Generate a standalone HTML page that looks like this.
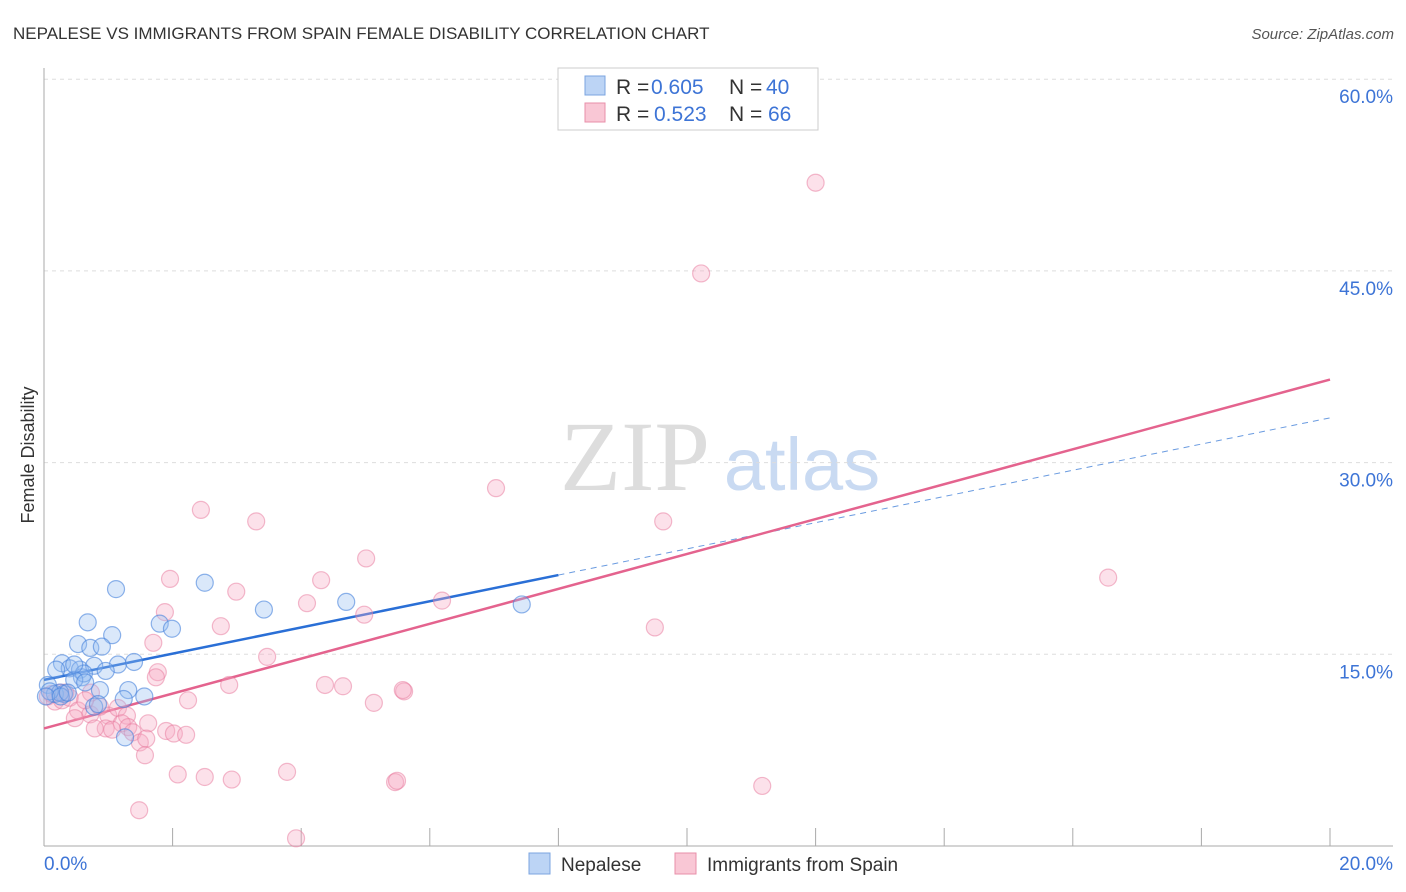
<!DOCTYPE html>
<html><head><meta charset="utf-8">
<style>
body{margin:0;background:#fff;font-family:"Liberation Sans",sans-serif;}
#wrap{position:relative;width:1406px;height:892px;overflow:hidden;}
</style></head><body>
<div id="wrap">
<svg id="chart" width="1406" height="892" style="position:absolute;left:0;top:0">
<text x="13" y="39" font-size="17" fill="#333">NEPALESE VS IMMIGRANTS FROM SPAIN FEMALE DISABILITY CORRELATION CHART</text>
<text x="1394" y="39" font-size="15" fill="#555" text-anchor="end" font-style="italic">Source: ZipAtlas.com</text>
<text x="34" y="455" font-size="18" fill="#333" text-anchor="middle" transform="rotate(-90 34 455)">Female Disability</text>
<g>
<text x="635" y="490" font-size="100" fill="#ddd" text-anchor="middle" font-family="Liberation Serif,serif">ZIP</text>
<text x="802" y="490" font-size="74" fill="#c9daf2" text-anchor="middle">atlas</text>
</g>
<g id="grid"></g><g id="axes"></g><g id="lines"></g><g id="pts"></g>
<g>
<rect x="558" y="68" width="260" height="62" fill="#fff" stroke="#ccc"/>
<rect x="585" y="76" width="20" height="19" fill="#bcd4f5" stroke="#7ba4e0"/>
<rect x="585" y="103" width="20" height="19" fill="#f9c7d5" stroke="#e88fa9"/>
<g font-size="21" fill="#333">
<text x="616" y="94">R =</text><text x="651" y="94" fill="#3d74d6">0.605</text>
<text x="729" y="94">N =</text><text x="766" y="94" fill="#3d74d6">40</text>
<text x="616" y="121">R =</text><text x="654" y="121" fill="#3d74d6">0.523</text>
<text x="729" y="121">N =</text><text x="768" y="121" fill="#3d74d6">66</text>
</g>
</g>
<g>
<rect x="529" y="853" width="21" height="21" fill="#bcd4f5" stroke="#7ba4e0"/>
<text x="561" y="871" font-size="19" fill="#333">Nepalese</text>
<rect x="675" y="853" width="21" height="21" fill="#f9c7d5" stroke="#e88fa9"/>
<text x="707" y="871" font-size="19" fill="#333">Immigrants from Spain</text>
</g>
</svg>
</div>
<script>
const xTicks=[0,20];
const yTicks=[15,30,45,60];
const blueX=[1.12,2.50,3.42,4.70,7.43,0.68,1.80,1.99,1.06,0.53,0.72,0.90,0.28,0.40,0.56,0.78,1.15,1.40,0.59,0.19,0.06,0.31,0.87,1.31,1.56,1.24,0.17,0.25,0.78,1.26,0.09,0.03,0.62,0.47,0.84,0.26,0.37,0.96,0.47,0.64];
const blueY=[20.1,20.6,18.5,19.1,18.9,17.5,17.4,17.0,16.5,15.8,15.5,15.6,14.3,13.9,13.8,14.1,14.2,14.4,13.2,13.8,12.6,11.9,12.2,12.2,11.7,11.5,11.9,12.0,10.9,8.5,12.1,11.7,13.5,13.0,11.1,11.7,12.0,13.7,14.2,12.8];
const pinkX=[12.0,10.22,7.03,2.44,3.30,9.63,5.01,1.96,4.31,2.99,4.09,1.88,4.98,6.19,1.70,2.75,9.50,16.55,3.47,1.77,1.74,2.88,4.37,4.65,5.60,5.58,5.13,2.24,0.73,0.06,0.17,0.28,0.40,0.53,0.72,1.00,1.15,0.87,1.29,0.48,1.21,1.62,1.31,0.96,1.06,1.38,1.90,2.02,2.21,1.49,1.59,1.57,2.08,2.50,2.92,3.78,5.46,5.49,11.17,1.48,3.92,0.33,0.79,0.25,0.64,0.12];
const pinkY=[51.9,44.8,28.0,26.3,25.4,25.4,22.5,20.9,20.8,19.9,19.0,18.3,18.1,19.2,15.9,17.2,17.1,21.0,14.8,13.6,13.2,12.6,12.6,12.5,12.1,12.2,11.2,11.4,12.0,11.7,11.3,11.4,11.6,10.6,10.3,10.2,10.8,10.9,10.2,10.0,9.6,9.6,9.3,9.2,9.1,8.9,9.0,8.8,8.7,8.1,8.4,7.1,5.6,5.4,5.2,5.8,5.0,5.1,4.7,2.8,0.6,12.0,9.2,12.0,11.4,11.9];
const blueLine=[[0,13.0],[8.0,21.2]];
const blueDash=[[8.0,21.2],[20,33.5]];
const pinkLine=[[0,9.2],[20,36.5]];
const X=v=>44+v/20*1286, Y=v=>846-v*12.78;
const NS="http://www.w3.org/2000/svg";
function mk(p,t,a){const e=document.createElementNS(NS,t);for(const k in a)e.setAttribute(k,a[k]);p.appendChild(e);return e;}
const grid=document.getElementById('grid'),axes=document.getElementById('axes'),lines=document.getElementById('lines'),pts=document.getElementById('pts');
yTicks.forEach(v=>{
 const l=mk(grid,'line',{x1:44,x2:1393,y1:Y(v),y2:Y(v),stroke:'#ddd','stroke-dasharray':'4,4'});
 
 
 const t=mk(axes,'text',{x:1393,y:Y(v)+24,'font-size':19,fill:'#3d74d6','text-anchor':'end'});t.textContent=v.toFixed(1)+'%';
 
 
});
mk(axes,'line',{x1:44,x2:44,y1:68,y2:846,stroke:'#aaa'});
mk(axes,'line',{x1:44,x2:1393,y1:846,y2:846,stroke:'#aaa'});
for(let i=1;i<=10;i++){mk(axes,'line',{x1:X(i*2),x2:X(i*2),y1:828,y2:846,stroke:'#aaa'});}
xTicks.forEach((v,i)=>{const t=mk(axes,'text',{x:i?1393:44,y:870,'font-size':19,fill:'#3d74d6','text-anchor':i?'end':'start'});t.textContent=v.toFixed(1)+'%';
 
 });
function pt(x,y,fill,stroke){const c=mk(pts,'circle',{cx:X(x),cy:Y(y),r:8.5,fill:fill,stroke:stroke,'stroke-width':1.2});return c;}
pinkX.forEach((x,i)=>{const c=pt(x,pinkY[i],'rgba(246,170,195,0.35)','rgba(232,120,155,0.5)');
 
 });
blueX.forEach((x,i)=>{const c=pt(x,blueY[i],'rgba(150,190,240,0.35)','rgba(70,130,220,0.6)');
 
 });
const bl=mk(lines,'line',{x1:X(blueLine[0][0]),y1:Y(blueLine[0][1]),x2:X(blueLine[1][0]),y2:Y(blueLine[1][1]),stroke:'#2a6fd6','stroke-width':2.5});


const bd=mk(lines,'line',{x1:X(blueDash[0][0]),y1:Y(blueDash[0][1]),x2:X(blueDash[1][0]),y2:Y(blueDash[1][1]),stroke:'#6a9be0','stroke-width':1,'stroke-dasharray':'6,5'});


const pl=mk(lines,'line',{x1:X(pinkLine[0][0]),y1:Y(pinkLine[0][1]),x2:X(pinkLine[1][0]),y2:Y(pinkLine[1][1]),stroke:'#e4638e','stroke-width':2.5});


</script>
</body></html>
